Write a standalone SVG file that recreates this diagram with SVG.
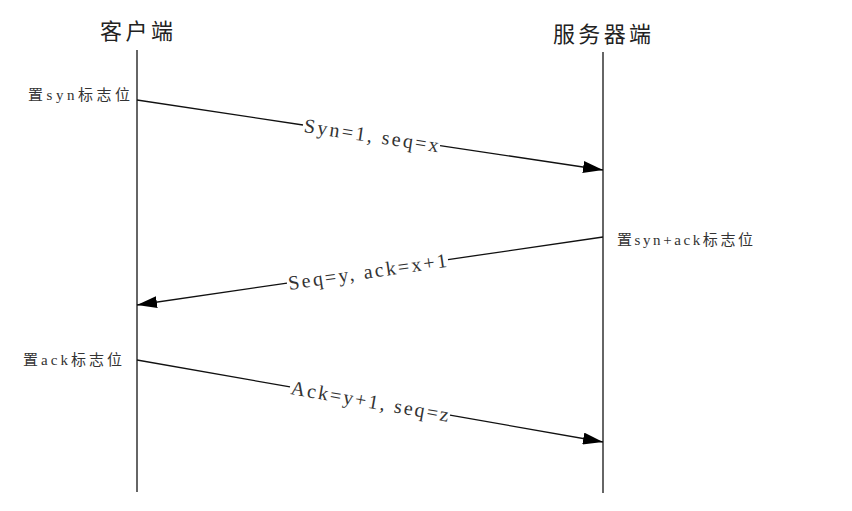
<svg xmlns="http://www.w3.org/2000/svg" width="852" height="511" viewBox="0 0 852 511">
<defs>
<marker id="arr" viewBox="0 0 20 12" refX="20" refY="6" markerWidth="20" markerHeight="12" markerUnits="userSpaceOnUse" orient="auto">
<path d="M0,0 L20,6 L0,12 Z" fill="#000"/>
</marker>
<style>
.life{stroke:#333;stroke-width:1.5;fill:none}
.msg{stroke:#111;stroke-width:1.3;fill:none}
.title{font-family:"Noto Sans CJK SC",serif;font-size:22px;fill:#222}
.side{font-family:"Liberation Serif","DejaVu Serif","Noto Sans CJK SC",serif;font-size:15px;fill:#333}
.lbl{font-family:"Liberation Serif","DejaVu Serif",serif;font-size:20px;fill:#333}
</style>
</defs>
<rect width="852" height="511" fill="#fff"/>
<g id="client">
<text class="title" x="100" y="29" dominant-baseline="central" textLength="73" lengthAdjust="spacing">客户端</text>
<line class="life" x1="137" y1="50" x2="137" y2="492"/>
</g>
<g id="server">
<text class="title" x="553" y="32" dominant-baseline="central" textLength="98" lengthAdjust="spacing">服务器端</text>
<line class="life" x1="603" y1="52" x2="603" y2="493"/>
</g>
<g id="note-syn">
<text class="side" x="28" y="95" dominant-baseline="central" textLength="102" lengthAdjust="spacing">置syn标志位</text>
</g>
<g id="note-synack">
<text class="side" x="617" y="240" dominant-baseline="central" textLength="136" lengthAdjust="spacing">置syn+ack标志位</text>
</g>
<g id="note-ack">
<text class="side" x="23" y="360" dominant-baseline="central" textLength="99" lengthAdjust="spacing">置ack标志位</text>
</g>
<g id="connectors">
<line class="msg" x1="137" y1="100" x2="303" y2="125"/>
<line class="msg" x1="440" y1="145.6" x2="603" y2="170" marker-end="url(#arr)"/>
<text class="lbl" transform="translate(371.5,135.3) rotate(8.54)" text-anchor="middle" dominant-baseline="central" textLength="136" lengthAdjust="spacing">Syn=1, seq=x</text>

<line class="msg" x1="603" y1="237" x2="448" y2="259.6"/>
<line class="msg" x1="287" y1="283.1" x2="137" y2="305" marker-end="url(#arr)"/>
<text class="lbl" transform="translate(367.5,271.4) rotate(-8.3)" text-anchor="middle" dominant-baseline="central" textLength="160" lengthAdjust="spacing">Seq=y, ack=x+1</text>

<line class="msg" x1="137" y1="360" x2="290" y2="386.9"/>
<line class="msg" x1="450" y1="415.1" x2="603" y2="442" marker-end="url(#arr)"/>
<text class="lbl" transform="translate(370,401) rotate(9.98)" text-anchor="middle" dominant-baseline="central" textLength="160" lengthAdjust="spacing">Ack=y+1, seq=z</text>
</g>
</svg>
